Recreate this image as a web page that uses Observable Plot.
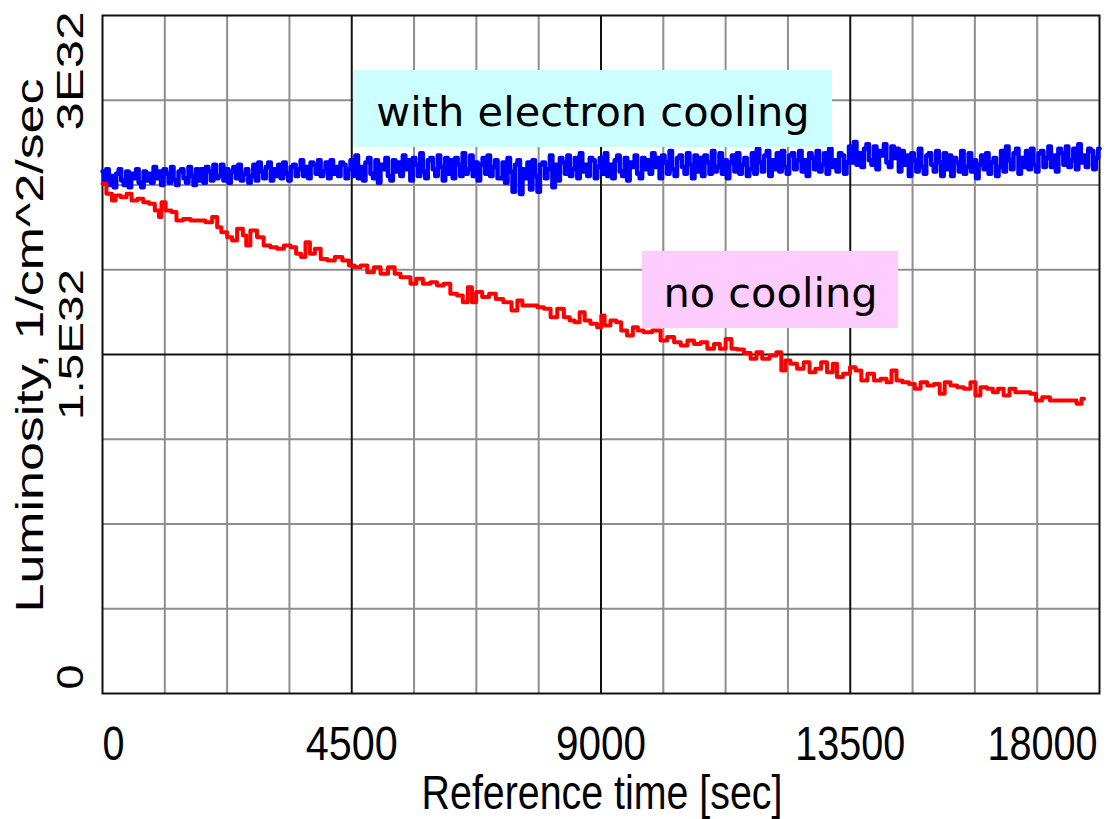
<!DOCTYPE html>
<html>
<head>
<meta charset="utf-8">
<script src="https://cdn.jsdelivr.net/npm/d3@7"></script>
<script src="https://cdn.jsdelivr.net/npm/@observablehq/plot@0.6"></script>
<style>
  html, body { margin: 0; padding: 0; background: #fff; }
  #chart { width: 1108px; height: 819px; }
</style>
</head>
<body>
<div id="chart"></div>
<script>
// ---------------- DATA ----------------
// Luminosity in units of 1E32 1/cm^2/sec, time in seconds
const redTime = [
  0,140,200,270,390,480,570,690,780,900,
  990,1050,1080,1200,1290,1380,1530,1650,1800,1920,
  2040,2100,2190,2310,2370,2490,2580,2610,2730,2850,
  2970,3090,3210,3340,3450,3540,3630,3700,3790,3880,
  4000,4120,4270,4390,4510,4600,4720,4840,4960,5080,
  5230,5320,5440,5500,5620,5710,5860,5980,6100,6220,
  6340,6460,6550,6640,6700,6790,6920,7040,7160,7310,
  7460,7520,7640,7790,7910,8030,8150,8270,8390,8480,
  8570,8660,8750,8870,8990,9020,9110,9230,9320,9410,
  9530,9620,9710,9830,10020,10130,10260,10380,10500,10620,
  10740,10860,10980,11100,11190,11310,11400,11520,11640,11760,
  11850,11970,12120,12210,12300,12360,12480,12600,12720,12810,
  12930,13020,13140,13230,13290,13450,13540,13650,13750,13870,
  13990,14110,14200,14290,14380,14500,14620,14710,14830,14950,
  15070,15160,15250,15370,15490,15610,15730,15790,15910,16030,
  16120,16210,16330,16420,16540,16690,16810,16900,17030,17180,
  17360,17540,17630,17720
];
const redLum = [
  2.255,2.211,2.181,2.204,2.196,2.211,2.181,2.189,2.174,2.167,
  2.137,2.108,2.174,2.137,2.130,2.093,2.100,2.093,2.093,2.085,
  2.108,2.063,2.041,2.019,2.004,2.056,2.027,1.982,2.049,2.019,
  1.982,1.975,1.968,1.982,1.975,1.946,1.931,1.997,1.946,1.968,
  1.923,1.916,1.931,1.916,1.894,1.886,1.894,1.864,1.886,1.857,
  1.886,1.857,1.842,1.842,1.813,1.835,1.813,1.820,1.805,1.813,
  1.769,1.761,1.731,1.798,1.731,1.776,1.754,1.769,1.746,1.731,
  1.695,1.739,1.717,1.717,1.709,1.702,1.665,1.702,1.665,1.650,
  1.643,1.687,1.650,1.636,1.621,1.673,1.628,1.650,1.643,1.606,
  1.584,1.621,1.606,1.599,1.606,1.562,1.577,1.554,1.540,1.562,
  1.547,1.554,1.525,1.547,1.525,1.569,1.525,1.522,1.507,1.481,
  1.510,1.481,1.496,1.510,1.429,1.473,1.459,1.437,1.466,1.422,
  1.437,1.466,1.422,1.459,1.400,1.415,1.444,1.429,1.385,1.415,
  1.385,1.393,1.377,1.429,1.385,1.377,1.370,1.348,1.377,1.363,
  1.370,1.326,1.377,1.363,1.355,1.348,1.377,1.319,1.355,1.348,
  1.333,1.348,1.319,1.348,1.333,1.333,1.326,1.296,1.311,1.296,
  1.296,1.296,1.282,1.304
];

// with electron cooling: sampled every 45 s from t = 0
const blueStart = 0;
const blueStep = 45;
const blueLum = [
  2.31,2.26,2.32,2.25,2.29,2.24,2.30,2.32,2.27,2.25,2.31,2.24,2.30,2.28,2.32,2.26,2.24,2.31,2.27,2.30,
  2.26,2.33,2.28,2.31,2.25,2.32,2.30,2.26,2.33,2.27,2.25,2.31,2.32,2.28,2.26,2.33,2.29,2.25,2.32,2.27,
  2.32,2.26,2.33,2.31,2.27,2.34,2.28,2.29,2.34,2.27,2.32,2.26,2.31,2.33,2.28,2.34,2.27,2.30,2.32,2.26,
  2.29,2.34,2.27,2.35,2.31,2.28,2.33,2.35,2.27,2.32,2.29,2.34,2.28,2.35,2.30,2.27,2.33,2.34,2.29,2.32,
  2.36,2.29,2.33,2.28,2.35,2.34,2.30,2.36,2.29,2.31,2.35,2.28,2.36,2.30,2.33,2.29,2.35,2.34,2.28,2.32,
  2.36,2.29,2.38,2.28,2.33,2.27,2.35,2.37,2.30,2.28,2.36,2.26,2.34,2.32,2.37,2.29,2.27,2.36,2.31,2.35,
  2.29,2.38,2.32,2.36,2.27,2.37,2.34,2.29,2.39,2.31,2.28,2.36,2.37,2.32,2.29,2.38,2.33,2.27,2.37,2.30,
  2.36,2.28,2.37,2.34,2.29,2.39,2.30,2.32,2.38,2.29,2.35,2.27,2.34,2.37,2.30,2.38,2.29,2.33,2.36,2.28,
  2.28,2.35,2.26,2.37,2.31,2.22,2.34,2.36,2.21,2.32,2.28,2.35,2.23,2.36,2.29,2.22,2.34,2.35,2.28,2.32,
  2.38,2.24,2.34,2.27,2.37,2.35,2.30,2.38,2.29,2.32,2.37,2.28,2.39,2.31,2.34,2.29,2.37,2.36,2.28,2.33,
  2.37,2.30,2.39,2.29,2.34,2.28,2.36,2.38,2.31,2.29,2.37,2.27,2.35,2.33,2.38,2.30,2.28,2.37,2.32,2.36,
  2.30,2.39,2.33,2.37,2.28,2.38,2.35,2.30,2.40,2.32,2.29,2.37,2.38,2.33,2.30,2.39,2.34,2.28,2.38,2.31,
  2.37,2.29,2.38,2.35,2.30,2.40,2.31,2.33,2.39,2.30,2.36,2.28,2.35,2.38,2.31,2.39,2.30,2.34,2.37,2.29,
  2.32,2.39,2.30,2.41,2.35,2.31,2.38,2.40,2.29,2.36,2.32,2.39,2.31,2.40,2.33,2.30,2.38,2.39,2.32,2.36,
  2.40,2.31,2.36,2.29,2.39,2.37,2.32,2.40,2.31,2.34,2.39,2.30,2.41,2.33,2.36,2.31,2.39,2.38,2.30,2.35,
  2.42,2.35,2.44,2.34,2.39,2.33,2.41,2.43,2.36,2.34,2.42,2.32,2.40,2.38,2.43,2.35,2.33,2.42,2.37,2.41,
  2.31,2.40,2.34,2.38,2.29,2.39,2.36,2.31,2.41,2.33,2.30,2.38,2.39,2.34,2.31,2.40,2.35,2.29,2.39,2.32,
  2.38,2.29,2.37,2.35,2.31,2.40,2.30,2.33,2.39,2.31,2.36,2.28,2.34,2.38,2.32,2.39,2.30,2.35,2.37,2.29,
  2.33,2.40,2.31,2.42,2.36,2.32,2.39,2.41,2.30,2.37,2.33,2.40,2.32,2.41,2.34,2.31,2.39,2.40,2.33,2.37,
  2.42,2.33,2.38,2.31,2.41,2.39,2.34,2.42,2.33,2.36,2.41,2.32,2.43,2.35,2.38,2.33,2.41,2.40,2.32,2.37,
  2.41
];

// axes / grid
const xDomain = [0, 18000];
const yDomain = [0, 3];
const xMinorGrid = [1125,2250,3375,5625,6750,7875,10125,11250,12375,14625,15750,16875];
const xMajorGrid = [4500, 9000, 13500];
const yMinorGrid = [0.375,0.75,1.125,1.875,2.25,2.625];
const yMajorGrid = [1.5];
const xTicks = [0, 4500, 9000, 13500, 18000];
const xTickLabels = ["0", "4500", "9000", "13500", "18000"];
const yTicks = [0, 1.5, 3];
const yTickLabels = ["0", "1.5E32", "3E32"];
const xTitle = "Reference time [sec]";
const yTitle = "Luminosity, 1/cm^2/sec";

// annotations (data coordinates)
const noteLabels = ["with electron cooling", "no cooling"];
const noteX1 = [4532, 9749];
const noteX2 = [13179, 14371];
const noteY1 = [2.416, 1.615];
const noteY2 = [2.757, 1.956];
const noteFills = ["#ccffff", "#ffccff"];

// ---------------- BUILD ----------------
const red = redTime.map((t, i) => ({t, v: redLum[i]}));
const blue = blueLum.map((v, i) => ({t: blueStart + i * blueStep, v}));
const notes = noteLabels.map((label, i) => ({
  label, x1: noteX1[i], x2: noteX2[i], y1: noteY1[i], y2: noteY2[i],
  cx: (noteX1[i] + noteX2[i]) / 2, cy: (noteY1[i] + noteY2[i]) / 2
}));
const xLab = xTicks.map((x, i) => ({x, label: xTickLabels[i]}));
const yLab = yTicks.map((y, i) => ({y, label: yTickLabels[i]}));

const sans = "'Liberation Sans', Arial, Helvetica, sans-serif";
const gridGray = "#8e8e8e";
const dark = "#111";

const chart = Plot.plot({
  width: 1108,
  height: 819,
  marginLeft: 102,
  marginRight: 9,
  marginTop: 15,
  marginBottom: 126,
  x: {domain: xDomain, axis: null},
  y: {domain: yDomain, axis: null},
  style: {background: "#fff", fontFamily: sans, overflow: "visible"},
  marks: [
    Plot.ruleX(xMinorGrid, {stroke: gridGray, strokeWidth: 2}),
    Plot.ruleY(yMinorGrid, {stroke: gridGray, strokeWidth: 2}),
    Plot.ruleX(xMajorGrid, {stroke: dark, strokeWidth: 2}),
    Plot.ruleY(yMajorGrid, {stroke: dark, strokeWidth: 2}),
    Plot.frame({stroke: dark, strokeWidth: 2}),
    Plot.line(blue, {x: "t", y: "v", stroke: "#0000ff", strokeWidth: 4.5, curve: "step"}),
    Plot.line(red, {x: "t", y: "v", stroke: "#ff0000", strokeWidth: 4, curve: "step"}),
    Plot.rect(notes.slice(0, 1), {x1: "x1", x2: "x2", y1: "y1", y2: "y2", fill: noteFills[0]}),
    Plot.rect(notes.slice(1, 2), {x1: "x1", x2: "x2", y1: "y1", y2: "y2", fill: noteFills[1]}),
    Plot.text(notes, {x: "cx", y: "cy", text: "label", fontFamily: "'DejaVu Sans', Verdana, sans-serif",
      fontSize: 41.5, dy: 4, fill: "#000"}),
    // x tick labels
    Plot.text(xLab.slice(0, 1), {x: "x", text: "label", frameAnchor: "bottom", dy: 32, lineAnchor: "top",
      textAnchor: "start", fontSize: 49}),
    Plot.text(xLab.slice(1, 4), {x: "x", text: "label", frameAnchor: "bottom", dy: 32, lineAnchor: "top",
      textAnchor: "middle", fontSize: 49}),
    Plot.text(xLab.slice(4), {x: "x", text: "label", frameAnchor: "bottom", dy: 32, dx: -2, lineAnchor: "top",
      textAnchor: "end", fontSize: 49}),
    Plot.text([xTitle], {frameAnchor: "bottom", dy: 81, dx: 1, lineAnchor: "top", fontSize: 48}),
    // y tick labels (rotated)
    Plot.text(yLab.slice(0, 1), {y: "y", text: "label", frameAnchor: "left", rotate: -90, dx: -45, dy: -4,
      lineAnchor: "top", textAnchor: "start", fontSize: 36}),
    Plot.text(yLab.slice(1, 2), {y: "y", text: "label", frameAnchor: "left", rotate: -90, dx: -45, dy: -10,
      lineAnchor: "top", textAnchor: "middle", fontSize: 36}),
    Plot.text(yLab.slice(2), {y: "y", text: "label", frameAnchor: "left", rotate: -90, dx: -45, dy: -4,
      lineAnchor: "top", textAnchor: "end", fontSize: 36}),
    Plot.text([yTitle], {frameAnchor: "left", rotate: -90, dx: -87, dy: -9, lineAnchor: "top",
      textAnchor: "middle", fontSize: 39})
  ]
});

document.getElementById("chart").appendChild(chart);

// the original raster is stretched vertically: scale texts along their direction
// so that their printed lengths match
const textLengths = {
  "0|h": 22, "4500|h": 92, "9000|h": 90, "13500|h": 110, "18000|h": 110,
  "Reference time [sec]|h": 361,
  "0|v": 25, "1.5E32|v": 151, "3E32|v": 119,
  "Luminosity, 1/cm^2/sec|v": 534
};
chart.querySelectorAll("text").forEach(t => {
  const tf = (t.getAttribute("transform") || "") + (t.parentNode.getAttribute("transform") || "");
  const key = t.textContent + (tf.includes("rotate") ? "|v" : "|h");
  const L = textLengths[key];
  if (L) {
    const natural = t.getComputedTextLength();
    if (natural > 0) {
      const sx = L / natural;
      const own = t.getAttribute("transform") || "";
      t.setAttribute("transform", (own + ` scale(${sx.toFixed(4)},1)`).trim());
    }
  }
});
</script>
</body>
</html>
